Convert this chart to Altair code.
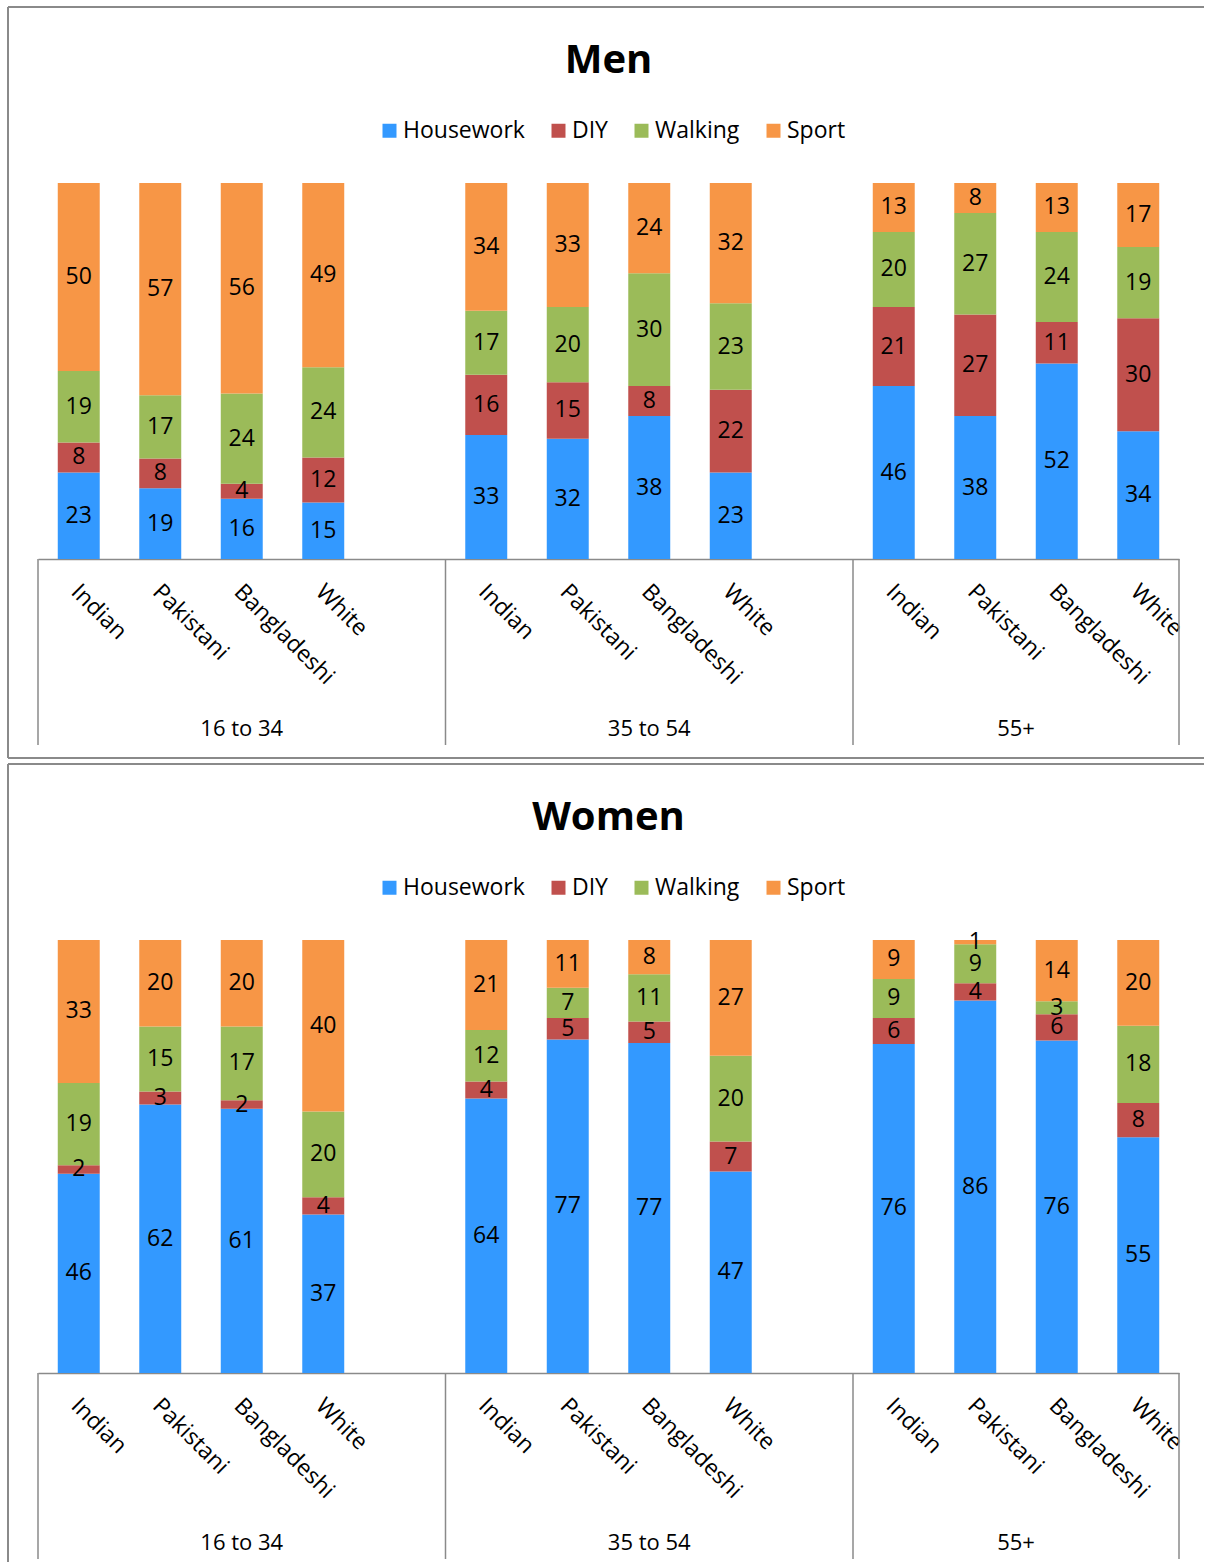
import altair as alt
import pandas as pd

FONT = "Open Sans"
GRAY = "#8a8a8a"

ages = ["16 to 34", "35 to 54", "55+"]
groups = ["Indian", "Pakistani", "Bangladeshi", "White"]
activities = ["Housework", "DIY", "Walking", "Sport"]
colors = ["#3399FF", "#C0504D", "#9BBB59", "#F79646"]

men_housework = [23, 19, 16, 15, 33, 32, 38, 23, 46, 38, 52, 34]
men_diy = [8, 8, 4, 12, 16, 15, 8, 22, 21, 27, 11, 30]
men_walking = [19, 17, 24, 24, 17, 20, 30, 23, 20, 27, 24, 19]
men_sport = [50, 57, 56, 49, 34, 33, 24, 32, 13, 8, 13, 17]

women_housework = [46, 62, 61, 37, 64, 77, 77, 47, 76, 86, 76, 55]
women_diy = [2, 3, 2, 4, 4, 5, 5, 7, 6, 4, 6, 8]
women_walking = [19, 15, 17, 20, 12, 7, 11, 20, 9, 9, 3, 18]
women_sport = [33, 20, 20, 40, 21, 11, 8, 27, 9, 1, 14, 20]

# category domain: each age group's four bars plus an empty slot after the first two groups
domain = []
for i, a in enumerate(ages):
    for g in groups:
        domain.append(f"{a}|{g}")
    if i < len(ages) - 1:
        domain.append(f"{a}|")


def build(series):
    rows = []
    for ai, act in enumerate(activities):
        vals = series[ai]
        k = 0
        for a in ages:
            for g in groups:
                rows.append({"key": f"{a}|{g}", "age": a, "group": g,
                             "activity": act, "order": ai, "value": vals[k]})
                k += 1
    return pd.DataFrame(rows)


def xenc(band=None):
    kw = {}
    if band is not None:
        kw["bandPosition"] = band
    return alt.X(
        "key:N",
        scale=alt.Scale(domain=domain, paddingInner=0, paddingOuter=0),
        axis=alt.Axis(title=None, labelExpr="split(datum.value, '|')[1]",
                      labelAngle=45, labelAlign="left", labelBaseline="top",
                      labelPadding=21, labelOffset=4, labelFont=FONT, labelFontSize=23,
                      labelColor="black", ticks=False, domainColor=GRAY,
                      domainWidth=1.5, grid=False, labelOverlap=False),
        **kw,
    )


def panel(title, series, height, closed_bottom):
    df = build(series)
    one = pd.DataFrame({"k": [0]})
    W = 1141

    border_top = alt.Chart(one).mark_rule(color=GRAY, strokeWidth=2).encode(
        x=alt.value(-30), x2=alt.value(1166), y=alt.value(-176))
    left_end = height + 199 if closed_bottom else 622
    border_left = alt.Chart(one).mark_rule(color=GRAY, strokeWidth=2).encode(
        x=alt.value(-30), y=alt.value(-176), y2=alt.value(left_end))
    layers = [border_top, border_left]
    if closed_bottom:
        border_bottom = alt.Chart(one).mark_rule(color=GRAY, strokeWidth=2).encode(
            x=alt.value(-30), x2=alt.value(1166), y=alt.value(height + 199))
        layers.append(border_bottom)

    sep_df = pd.DataFrame({"key": [f"{a}|{groups[0]}" for a in ages]})
    end_df = pd.DataFrame({"key": [f"{ages[-1]}|{groups[-1]}"]})
    seps = alt.Chart(sep_df).mark_rule(color=GRAY, strokeWidth=1.5).encode(
        x=xenc(0), y=alt.value(height), y2=alt.value(height + 186))
    seps_end = alt.Chart(end_df).mark_rule(color=GRAY, strokeWidth=1.5).encode(
        x=xenc(1), y=alt.value(height), y2=alt.value(height + 186))

    stacked = alt.Chart(df).transform_stack(
        as_=["y0", "y1"], stack="value", groupby=["key"], offset="normalize",
        sort=[alt.SortField("order", order="ascending")],
    ).transform_calculate(mid="(datum.y0 + datum.y1) / 2")

    bars = stacked.mark_bar(width=alt.RelativeBandSize(0.515)).encode(
        x=xenc(),
        y=alt.Y("y0:Q", scale=alt.Scale(domain=[0, 1], nice=False), axis=None),
        y2="y1:Q",
        color=alt.Color(
            "activity:N",
            scale=alt.Scale(domain=activities, range=colors),
            legend=alt.Legend(title=None, orient="none", legendX=340, legendY=-64,
                              direction="horizontal", symbolType="square",
                              symbolSize=196, symbolStrokeWidth=0,
                              labelFont=FONT, labelFontSize=23, labelColor="black",
                              labelOffset=2, columnPadding=22, padding=0),
        ),
    )
    labels = stacked.mark_text(font=FONT, fontSize=23, color="black",
                               baseline="middle", align="center").encode(
        x=xenc(),
        y=alt.Y("mid:Q", scale=alt.Scale(domain=[0, 1], nice=False), axis=None),
        text="value:Q",
    )

    g1 = pd.DataFrame({"key": [f"{a}|{groups[2]}" for a in ages[:2]], "label": ages[:2]})
    g2 = pd.DataFrame({"key": [f"{ages[2]}|{groups[1]}"], "label": [ages[2]]})
    glab1 = alt.Chart(g1).mark_text(font=FONT, fontSize=22, color="black",
                                    baseline="middle").encode(
        x=xenc(0.5), y=alt.value(height + 170), text="label:N")
    glab2 = alt.Chart(g2).mark_text(font=FONT, fontSize=22, color="black",
                                    baseline="middle").encode(
        x=xenc(1), y=alt.value(height + 170), text="label:N")

    layers += [seps, seps_end, bars, labels, glab1, glab2]
    return alt.layer(*layers).properties(
        width=W, height=height,
        title=alt.Title(title, font=FONT, fontSize=40, fontWeight="bold",
                        color="black", anchor="middle", frame="group",
                        offset=-107, baseline="alphabetic"),
    )


men = panel("Men", [men_housework, men_diy, men_walking, men_sport], 376, True)
women = panel("Women", [women_housework, women_diy, women_walking, women_sport], 433, False)

chart = alt.vconcat(men, women, spacing=4).resolve_scale(
    x="independent", y="independent"
).resolve_legend(color="independent").properties(
    padding={"left": 7, "top": 6, "right": 0, "bottom": 0},
    background="white",
).configure_view(strokeWidth=0)

chart.save("out.html", embed_options={"renderer": "svg", "actions": False})
